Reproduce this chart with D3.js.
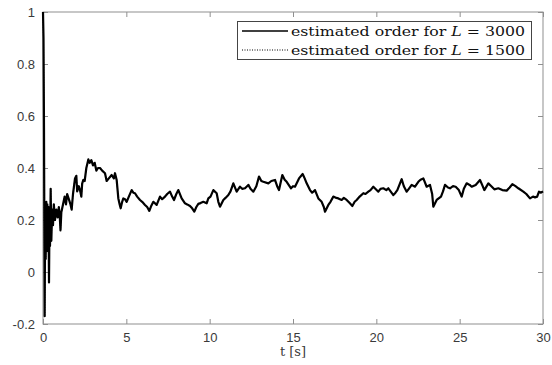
<!DOCTYPE html>
<html lang="en">
<head>
<meta charset="UTF-8">
<title>estimated order</title>
<style>
  body { margin: 0; background: #fff; }
  .tick text { font-family: "Liberation Sans", Arial, sans-serif; }
</style>
</head>
<body>
<div id="chart"></div>
<script src="https://d3js.org/d3.v7.min.js"></script>
<script>
// time [s] and estimated order
var tVals = [0, 0.03, 0.06, 0.08, 0.1, 0.13, 0.16, 0.2, 0.23, 0.26, 0.3, 0.33, 0.36, 0.39, 0.42, 0.46, 0.5,
  0.55, 0.6, 0.65, 0.72, 0.8, 0.88, 0.95, 1.0, 1.05, 1.1, 1.2, 1.3, 1.38, 1.45, 1.55, 1.65, 1.72, 1.8,
  1.92, 2.0, 2.05, 2.15, 2.22, 2.3, 2.35, 2.42, 2.5, 2.6, 2.72, 2.8, 2.9, 3.0, 3.1, 3.2, 3.3, 3.42,
  3.55, 3.72, 3.82, 3.95, 4.12, 4.25, 4.32, 4.42, 4.52, 4.6, 4.66, 4.75, 4.82, 4.92, 5.02, 5.15, 5.32,
  5.42, 5.52, 5.65, 5.82, 5.95, 6.12, 6.25, 6.38, 6.5, 6.62, 6.82, 7.02, 7.15, 7.32, 7.45, 7.62, 7.75,
  7.86, 8.0, 8.12, 8.32, 8.52, 8.65, 8.82, 8.95, 9.08, 9.2, 9.32, 9.45, 9.62, 9.82, 9.92, 10.05, 10.22,
  10.42, 10.52, 10.62, 10.82, 10.95, 11.12, 11.25, 11.42, 11.62, 11.82, 11.95, 12.12, 12.32, 12.45,
  12.62, 12.8, 12.96, 13.1, 13.22, 13.52, 13.7, 13.92, 14.05, 14.16, 14.36, 14.5, 14.62, 14.88, 15.0,
  15.12, 15.36, 15.58, 15.7, 15.82, 16.02, 16.15, 16.32, 16.52, 16.72, 16.85, 16.92, 17.12, 17.25,
  17.42, 17.6, 17.72, 17.92, 18.05, 18.22, 18.4, 18.56, 18.7, 18.82, 19.0, 19.22, 19.35, 19.52, 19.65,
  19.82, 20.12, 20.25, 20.42, 20.6, 20.72, 21.02, 21.15, 21.26, 21.52, 21.65, 21.82, 21.95, 22.12,
  22.32, 22.52, 22.65, 22.82, 23.02, 23.22, 23.35, 23.42, 23.62, 23.88, 24.0, 24.12, 24.3, 24.42,
  24.6, 24.76, 24.95, 25.12, 25.25, 25.42, 25.6, 25.72, 25.96, 26.22, 26.35, 26.48, 26.72, 26.9,
  27.08, 27.32, 27.56, 27.82, 28.0, 28.16, 28.35, 28.52, 28.82, 29.0, 29.22, 29.4, 29.52, 29.65,
  29.76, 29.88, 30.0];
var orderL3000 = [1.0, 0.9, 0.55, 0.2, -0.17, 0.25, 0.05, 0.27, 0.08, 0.26, 0.1, 0.25, -0.04, 0.2, 0.1, 0.32, 0.12,
  0.24, 0.18, 0.26, 0.2, 0.24, 0.21, 0.25, 0.22, 0.16, 0.23, 0.26, 0.29, 0.26, 0.3, 0.28, 0.26, 0.24, 0.3,
  0.36, 0.37, 0.31, 0.33, 0.315, 0.29, 0.34, 0.354, 0.35, 0.4, 0.433, 0.42, 0.43, 0.41, 0.42, 0.39, 0.4, 0.4,
  0.39, 0.38, 0.35, 0.36, 0.373, 0.36, 0.38, 0.354, 0.283, 0.26, 0.245, 0.27, 0.283, 0.28, 0.27, 0.29, 0.315,
  0.305, 0.303, 0.29, 0.277, 0.27, 0.258, 0.25, 0.235, 0.255, 0.27, 0.258, 0.29, 0.28, 0.29, 0.3, 0.309, 0.29,
  0.277, 0.3, 0.315, 0.283, 0.264, 0.26, 0.254, 0.245, 0.232, 0.25, 0.262, 0.265, 0.27, 0.264, 0.283, 0.29, 0.315,
  0.303, 0.27, 0.251, 0.277, 0.285, 0.296, 0.31, 0.341, 0.309, 0.328, 0.32, 0.322, 0.335, 0.32,
  0.309, 0.33, 0.367, 0.35, 0.347, 0.341, 0.35, 0.354, 0.33, 0.315, 0.373, 0.355, 0.347, 0.322, 0.33,
  0.328, 0.36, 0.377, 0.36, 0.341, 0.315, 0.305, 0.315, 0.283, 0.27, 0.25, 0.232, 0.258, 0.27,
  0.29, 0.285, 0.283, 0.277, 0.285, 0.277, 0.265, 0.254, 0.27, 0.277, 0.29, 0.303, 0.3, 0.309, 0.315,
  0.328, 0.309, 0.32, 0.322, 0.315, 0.322, 0.296, 0.305, 0.315, 0.357, 0.33, 0.309, 0.32, 0.335,
  0.328, 0.347, 0.355, 0.36, 0.328, 0.335, 0.3, 0.251, 0.277, 0.29, 0.31, 0.335, 0.325, 0.322,
  0.33, 0.328, 0.315, 0.29, 0.32, 0.341, 0.335, 0.328, 0.335, 0.354, 0.335, 0.315, 0.341, 0.33,
  0.318, 0.322, 0.315, 0.313, 0.325, 0.338, 0.33, 0.322, 0.309, 0.3, 0.283, 0.29, 0.287, 0.29,
  0.309, 0.305, 0.31];
// L = 1500 estimate is hidden under the L = 3000 one in the picture
var orderL1500 = orderL3000.slice();

var xTicks = [0, 5, 10, 15, 20, 25, 30];
var yTicks = [-0.2, 0, 0.2, 0.4, 0.6, 0.8, 1];
var legendLabels = ["3000", "1500"];

var W = 552, H = 365;
var margin = {top: 12, right: 9, bottom: 41, left: 43};
var width = W - margin.left - margin.right,
    height = H - margin.top - margin.bottom;

var svg = d3.select("#chart").append("svg")
    .attr("width", W)
    .attr("height", H);

var g = svg.append("g")
    .attr("transform", "translate(" + margin.left + "," + margin.top + ")");

var x = d3.scaleLinear().domain([0, 30]).range([0, width]);
var y = d3.scaleLinear().domain([-0.2, 1]).range([height, 0]);

var axisColor = "#8f8f8f", labelColor = "#3a3a3a";
var serif = "'DejaVu Serif', 'Liberation Serif', serif";

// box
g.append("rect")
  .attr("width", width).attr("height", height)
  .attr("fill", "none").attr("stroke", axisColor).attr("stroke-width", 1);

function styleAxis(sel) {
  sel.select(".domain").remove();
  sel.selectAll(".tick line").attr("stroke", axisColor);
  sel.selectAll(".tick text").attr("fill", labelColor).style("font-size", "13px");
}

g.append("g")
  .attr("transform", "translate(0," + height + ")")
  .call(d3.axisBottom(x).tickValues(xTicks).tickSizeInner(-5).tickSizeOuter(0).tickPadding(9))
  .call(styleAxis);
g.append("g")
  .call(d3.axisTop(x).tickValues(xTicks).tickSizeInner(-5).tickSizeOuter(0).tickFormat(""))
  .call(styleAxis);
g.append("g")
  .call(d3.axisLeft(y).tickValues(yTicks).tickSizeInner(-5).tickSizeOuter(0).tickPadding(8)
        .tickFormat(function(d) { return String(+d.toFixed(1)); }))
  .call(styleAxis);
g.append("g")
  .attr("transform", "translate(" + width + ",0)")
  .call(d3.axisRight(y).tickValues(yTicks).tickSizeInner(-5).tickSizeOuter(0).tickFormat(""))
  .call(styleAxis);

// x label
svg.append("text")
  .attr("x", margin.left + width / 2).attr("y", 356)
  .attr("text-anchor", "middle")
  .attr("font-family", serif).attr("font-size", 13)
  .attr("fill", labelColor)
  .text("t [s]");

var line = d3.line()
  .x(function(d, i) { return x(tVals[i]); })
  .y(function(d) { return y(d); });

g.append("path")
  .datum(orderL1500)
  .attr("d", line)
  .attr("fill", "none").attr("stroke", "#000").attr("stroke-width", 1)
  .attr("stroke-dasharray", "1,1.5");

g.append("path")
  .datum(orderL3000)
  .attr("d", line)
  .attr("fill", "none").attr("stroke", "#000").attr("stroke-width", 2.2)
  .attr("stroke-linejoin", "round");

// legend
var lg = svg.append("g");
lg.append("rect")
  .attr("x", 237.5).attr("y", 21.5).attr("width", 294).attr("height", 38)
  .attr("fill", "#fff").attr("stroke", "#444").attr("stroke-width", 1);

legendLabels.forEach(function(lab, i) {
  var yy = 31 + i * 19;
  lg.append("line")
    .attr("x1", 242).attr("x2", 288).attr("y1", yy).attr("y2", yy)
    .attr("stroke", "#000").attr("stroke-width", i === 0 ? 1.4 : 1)
    .attr("stroke-dasharray", i === 0 ? null : "1,1.5");
  var t = lg.append("text")
    .attr("x", 291).attr("y", yy + 4.5)
    .attr("textLength", 234).attr("lengthAdjust", "spacingAndGlyphs")
    .attr("font-family", serif).attr("font-size", 13)
    .attr("fill", "#111");
  t.append("tspan").text("estimated order for ");
  t.append("tspan").attr("font-style", "italic").text("L");
  t.append("tspan").text(" = " + lab);
});
</script>
</body>
</html>
